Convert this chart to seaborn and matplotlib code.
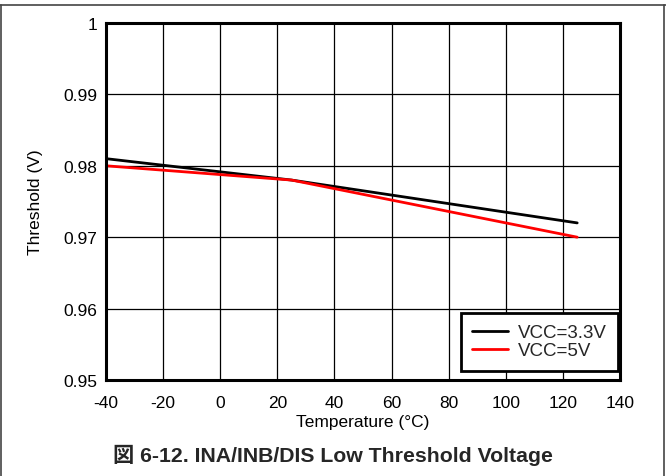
import pandas as pd
import matplotlib.pyplot as plt
import seaborn as sns
from matplotlib.lines import Line2D

# data
temp = [-40, 25, 125]
vcc33 = [0.981, 0.978, 0.972]
vcc5 = [0.980, 0.978, 0.970]
series = ['VCC=3.3V', 'VCC=5V']

xticks = list(range(-40, 141, 20))
yticks = [0.95, 0.96, 0.97, 0.98, 0.99, 1.0]
ytick_labels = ['0.95', '0.96', '0.97', '0.98', '0.99', '1']

df = pd.concat([
    pd.DataFrame({'Temperature': temp, 'Threshold': vcc33, 'Supply': series[0]}),
    pd.DataFrame({'Temperature': temp, 'Threshold': vcc5, 'Supply': series[1]}),
])

sns.set_style('white')
plt.rcParams['font.family'] = ['Liberation Sans', 'Noto Sans CJK JP', 'DejaVu Sans']
plt.rcParams['axes.unicode_minus'] = False

fig = plt.figure(figsize=(6.66, 4.77), dpi=100)
ax = fig.add_axes([0.159, 0.2013, 0.772, 0.7484])

sns.lineplot(data=df, x='Temperature', y='Threshold', hue='Supply',
             palette={series[0]: 'black', series[1]: '#ff0000'},
             linewidth=2, ax=ax)

ax.set_xlim(-40, 140)
ax.set_ylim(0.95, 1.0)
ax.set_xticks(xticks)
ax.set_yticks(yticks)
ax.set_yticklabels(ytick_labels)
ax.grid(True, color='black', linewidth=0.9)
ax.tick_params(axis='both', length=0, labelsize=12.5, colors='black')
ax.tick_params(axis='x', pad=10.5)
ax.tick_params(axis='y', pad=6)
for s in ax.spines.values():
    s.set_color('black')
    s.set_linewidth(2.2)

ax.set_xlabel('Temperature (°C)', fontsize=12.5, labelpad=3, color='black')
ax.set_ylabel('Threshold (V)', fontsize=12.5, labelpad=14.5, color='black')

leg = ax.legend(loc='lower right', bbox_to_anchor=(0.996, 0.025), borderaxespad=0,
                fontsize=13.5, frameon=True, fancybox=False,
                handlelength=1.9, handletextpad=0.5,
                labelspacing=0.05, borderpad=0.62)
leg.get_frame().set_edgecolor('black')
leg.get_frame().set_linewidth(2)
leg.get_frame().set_alpha(1)
leg.set_title(None)

# figure frame
fig.add_artist(Line2D([0, 1], [0.987, 0.987], color='#444444', linewidth=1.2))
fig.add_artist(Line2D([0.002, 0.002], [0, 0.987], color='#444444', linewidth=1.2))
fig.add_artist(Line2D([0.997, 0.997], [0, 0.987], color='#444444', linewidth=1.2))

fig.text(0.5, 0.046, '図 6-12. INA/INB/DIS Low Threshold Voltage',
         ha='center', va='center', fontsize=15.3, fontweight='bold',
         family=['Liberation Sans', 'Noto Sans CJK JP'])

fig.savefig('out.png', dpi=100)
